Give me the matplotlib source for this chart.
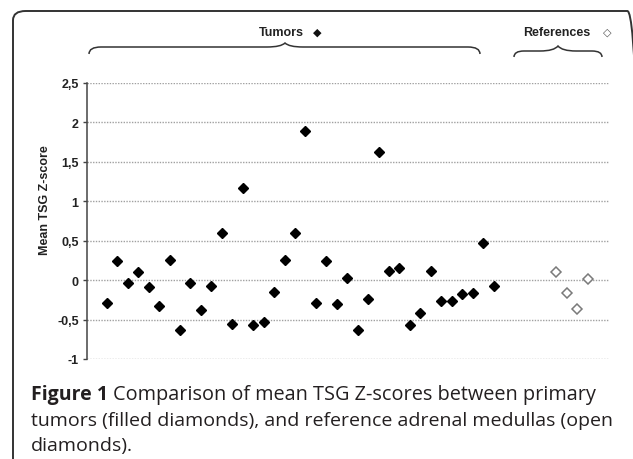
import matplotlib
matplotlib.use('Agg')
import matplotlib.pyplot as plt
from matplotlib.path import Path
from matplotlib.patches import PathPatch, FancyBboxPatch
from matplotlib.ticker import FixedLocator, FixedFormatter

# 数据
tumor_scores = [-0.29, 0.24, -0.04, 0.10, -0.09, -0.33, 0.26, -0.63, -0.03, -0.38,
                -0.07, 0.60, -0.55, 1.17, -0.57, -0.53, -0.15, 0.26, 0.60, 1.89,
                -0.29, 0.24, -0.30, 0.03, -0.63, -0.24, 1.63, 0.11, 0.15, -0.57,
                -0.42, 0.11, -0.27, -0.27, -0.18, -0.16, 0.47, -0.08]
reference_scores = [0.10, -0.16, -0.37, 0.01]
tumor_pos = list(range(1, len(tumor_scores) + 1))
reference_pos = list(range(44, 44 + len(reference_scores)))
y_ticks = [-1, -0.5, 0, 0.5, 1, 1.5, 2, 2.5]
y_tick_labels = ['-1', '-0,5', '0', '0,5', '1', '1,5', '2', '2,5']

W, H = 633, 460
label_font = ['Liberation Sans Narrow', 'Liberation Sans', 'DejaVu Sans']
caption_font = ['Open Sans', 'DejaVu Sans']
caption_color = '#231f20'


def fx(px):
    return px / W


def fy(py):
    return 1 - py / H


# 画括号
def add_brace(fig, x0, x1, xm, y0, d_end, d_tip, r):
    pts = [(x0, y0 + d_end), (x0, y0), (x0 + r, y0),
           (xm - 18, y0), (xm - 4, y0), (xm, y0 - d_tip),
           (xm + 4, y0), (xm + 18, y0),
           (x1 - r, y0), (x1, y0), (x1, y0 + d_end)]
    codes = [Path.MOVETO, Path.CURVE3, Path.CURVE3,
             Path.LINETO, Path.CURVE3, Path.CURVE3,
             Path.CURVE3, Path.CURVE3,
             Path.LINETO, Path.CURVE3, Path.CURVE3]
    path = Path([(fx(a), fy(b)) for a, b in pts], codes)
    fig.add_artist(PathPatch(path, facecolor='none', edgecolor='#333333',
                             lw=1.1, transform=fig.transFigure))


def main():
    fig = plt.figure(figsize=(W / 100, H / 100), dpi=100)

    # 外框
    frame = FancyBboxPatch((fx(13), fy(480)), fx(640) - fx(13), fy(12) - fy(480),
                           boxstyle='round,pad=0,rounding_size=0.02',
                           transform=fig.transFigure, facecolor='none',
                           edgecolor='#333333', lw=1.4)
    fig.add_artist(frame)

    ax = fig.add_axes([fx(87), fy(360), fx(609) - fx(87), fy(84) - fy(360)])
    ax.set_xlim(-0.9, 49.05)
    ax.set_ylim(-1, 2.5)

    for y in y_ticks:
        ax.axhline(y, color='#a0a0a0', lw=1.0, ls=(0, (1, 1)), zorder=1)

    ax.plot(tumor_pos, tumor_scores, ls='none', marker='D', ms=5,
            mfc='black', mec='black', zorder=3)
    ax.plot(reference_pos, reference_scores, ls='none', marker='D', ms=4.8,
            mfc='white', mec='#7a7a7a', mew=1.1, zorder=3)

    for side in ['top', 'right', 'bottom']:
        ax.spines[side].set_visible(False)
    ax.spines['left'].set_color('#444444')
    ax.spines['left'].set_linewidth(1.1)
    ax.set_xticks([])
    ax.yaxis.set_major_locator(FixedLocator(y_ticks))
    ax.yaxis.set_major_formatter(FixedFormatter(y_tick_labels))
    ax.tick_params(axis='y', direction='out', length=3, width=1, color='#444444',
                   pad=3, labelsize=9, labelcolor='#222222')
    for lab in ax.get_yticklabels():
        lab.set_family(label_font)
        lab.set_fontweight('bold')

    fig.text(fx(45), fy(200), 'Mean TSG Z-score', rotation=90, ha='center',
             va='center', fontsize=9, fontweight='bold', family=label_font,
             color='#222222')

    # 顶部标签
    fig.text(fx(281), fy(33), 'Tumors', ha='center', va='center', fontsize=9,
             fontweight='bold', family=label_font, color='#222222')
    fig.text(fx(317), fy(33), '\u25c6', ha='center', va='center', fontsize=8,
             family=['DejaVu Sans'], color='#111111')
    fig.text(fx(557), fy(33), 'References', ha='center', va='center', fontsize=9,
             fontweight='bold', family=label_font, color='#222222')
    fig.text(fx(607), fy(33), '\u25c7', ha='center', va='center', fontsize=8,
             family=['DejaVu Sans'], color='#555555')

    add_brace(fig, 89, 480, 285, 48, 7, 4, 12)
    add_brace(fig, 514, 602, 558, 52, 6, 5, 10)

    # 图注
    fig.canvas.draw()
    r = fig.canvas.get_renderer()
    t1 = fig.text(fx(31), fy(395), 'Figure 1', ha='left', va='center',
                  fontsize=14, fontweight='bold', family=caption_font,
                  color=caption_color)
    bb = t1.get_window_extent(renderer=r)
    fig.text(fx(bb.x1 + 5), fy(395), 'Comparison of mean TSG Z-scores between primary',
             ha='left', va='center', fontsize=14.3, family=caption_font,
             color=caption_color)
    fig.text(fx(31), fy(421), 'tumors (filled diamonds), and reference adrenal medullas (open',
             ha='left', va='center', fontsize=14, family=caption_font,
             color=caption_color)
    fig.text(fx(31), fy(446), 'diamonds).', ha='left', va='center', fontsize=14,
             family=caption_font, color=caption_color)

    plt.savefig('out.png', dpi=100)
    plt.close()


if __name__ == "__main__":
    main()
